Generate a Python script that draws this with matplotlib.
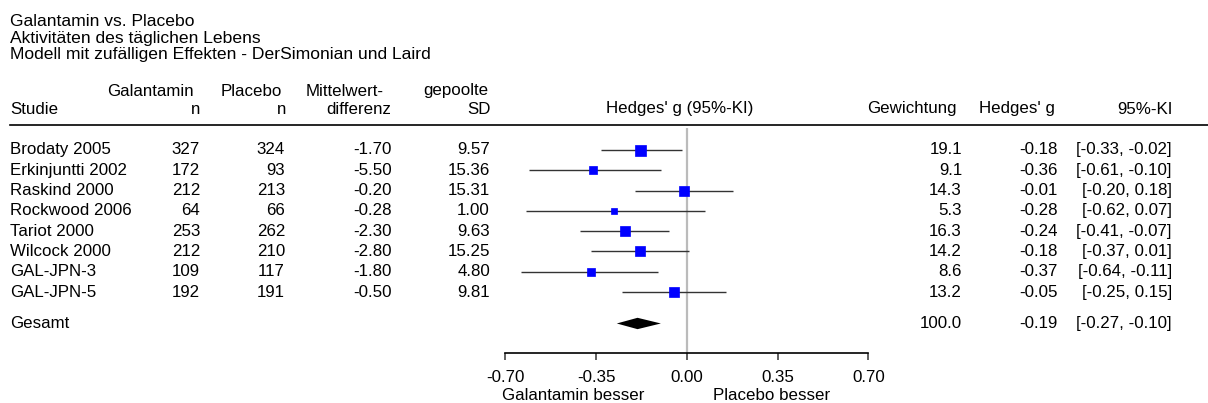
import matplotlib.pyplot as plt
import matplotlib.transforms as mtransforms
import numpy as np

plt.rcParams['font.family'] = ['Liberation Sans', 'DejaVu Sans']
plt.rcParams['font.size'] = 12.2

# Data
titles = ["Galantamin vs. Placebo",
          "Aktivitäten des täglichen Lebens",
          "Modell mit zufälligen Effekten - DerSimonian und Laird"]
studies = ["Brodaty 2005", "Erkinjuntti 2002", "Raskind 2000", "Rockwood 2006",
           "Tariot 2000", "Wilcock 2000", "GAL-JPN-3", "GAL-JPN-5"]
n_gal = [327, 172, 212, 64, 253, 212, 109, 192]
n_pla = [324, 93, 213, 66, 262, 210, 117, 191]
mean_diff = [-1.70, -5.50, -0.20, -0.28, -2.30, -2.80, -1.80, -0.50]
pooled_sd = [9.57, 15.36, 15.31, 1.00, 9.63, 15.25, 4.80, 9.81]
weights = [19.1, 9.1, 14.3, 5.3, 16.3, 14.2, 8.6, 13.2]
g = [-0.18, -0.36, -0.01, -0.28, -0.24, -0.18, -0.37, -0.05]
ci_lo = [-0.33, -0.61, -0.20, -0.62, -0.41, -0.37, -0.64, -0.25]
ci_hi = [-0.02, -0.10, 0.18, 0.07, -0.07, 0.01, -0.11, 0.15]
total_weight = 100.0
total_g = -0.19
total_lo = -0.27
total_hi = -0.10
xticks = [-0.70, -0.35, 0.00, 0.35, 0.70]
xtick_labels = ["-0.70", "-0.35", "0.00", "0.35", "0.70"]

W, H = 1208, 403
fig = plt.figure(figsize=(W / 100, H / 100), dpi=100)


def fx(px):
    return px / W


def fy(py):
    return 1 - py / H


# forest plot axes (pixel box)
ax = fig.add_axes([fx(505.3), fy(353), fx(868.3) - fx(505.3), fy(128) - fy(353)])
ax.set_xlim(-0.7, 0.7)
ax.set_ylim(10.005, -1.084)
rows = np.arange(len(studies))
total_row = len(studies) + 0.55

ax.axvline(0, color='#bbbbbb', lw=1.6, zorder=0)
ax.hlines(rows, ci_lo, ci_hi, color='#333333', lw=1.0, zorder=1)
for y, gv, w in zip(rows, g, weights):
    side = 11 * np.sqrt(w / 19.1) * 0.72
    ax.plot(gv, y, marker='s', ms=side, color='#0000ff', mec='#0000ff', mew=0.5, zorder=2)

dh = 0.28
ax.fill([total_lo, total_g, total_hi, total_g],
        [total_row, total_row - dh, total_row, total_row + dh], color='black', lw=0)

for s in ['top', 'left', 'right']:
    ax.spines[s].set_visible(False)
ax.spines['bottom'].set_color('black')
ax.spines['bottom'].set_linewidth(1.2)
ax.set_yticks([])
ax.set_xticks(xticks)
ax.set_xticklabels(xtick_labels)
ax.tick_params(axis='x', length=5, width=1.2, color='#444444', pad=7)

# titles
for i, t in enumerate(titles):
    fig.text(fx(10), fy(21.5 + 16.5 * i), t, ha='left', va='center', fontsize=12.6)

# header
fig.text(fx(194), fy(91), "Galantamin", ha='right', va='center')
fig.text(fx(282), fy(91), "Placebo", ha='right', va='center')
fig.text(fx(384), fy(91), "Mittelwert-", ha='right', va='center')
fig.text(fx(488), fy(91), "gepoolte", ha='right', va='center')
hy = fy(109)
fig.text(fx(10), hy, "Studie", ha='left', va='center')
fig.text(fx(200), hy, "n", ha='right', va='center')
fig.text(fx(286), hy, "n", ha='right', va='center')
fig.text(fx(391), hy, "differenz", ha='right', va='center')
fig.text(fx(491), hy, "SD", ha='right', va='center')
fig.text(fx(680), hy, "Hedges' g (95%-KI)", ha='center', va='center')
fig.text(fx(957), hy, "Gewichtung", ha='right', va='center')
fig.text(fx(1055), hy, "Hedges' g", ha='right', va='center')
fig.text(fx(1173), hy, "95%-KI", ha='right', va='center')
fig.add_artist(plt.Line2D([fx(10), fx(1208)], [fy(125), fy(125)], color='black', lw=1.2))

# table rows, y in data coordinates of the forest axes
trans = mtransforms.blended_transform_factory(fig.transFigure, ax.transData)
kw = dict(transform=trans, va='center', clip_on=False)
for y, i in zip(rows, range(len(studies))):
    ax.text(fx(10), y, studies[i], ha='left', **kw)
    ax.text(fx(200), y, f"{n_gal[i]}", ha='right', **kw)
    ax.text(fx(285), y, f"{n_pla[i]}", ha='right', **kw)
    ax.text(fx(392), y, f"{mean_diff[i]:.2f}", ha='right', **kw)
    ax.text(fx(490), y, f"{pooled_sd[i]:.2f}", ha='right', **kw)
    ax.text(fx(962), y, f"{weights[i]:.1f}", ha='right', **kw)
    ax.text(fx(1058), y, f"{g[i]:.2f}", ha='right', **kw)
    ax.text(fx(1172), y, f"[{ci_lo[i]:.2f}, {ci_hi[i]:.2f}]", ha='right', **kw)

ax.text(fx(10), total_row, "Gesamt", ha='left', **kw)
ax.text(fx(962), total_row, f"{total_weight:.1f}", ha='right', **kw)
ax.text(fx(1058), total_row, f"{total_g:.2f}", ha='right', **kw)
ax.text(fx(1172), total_row, f"[{total_lo:.2f}, {total_hi:.2f}]", ha='right', **kw)

fig.text(fx(502), fy(395), "Galantamin besser", ha='left', va='center')
fig.text(fx(713), fy(395), "Placebo besser", ha='left', va='center')

fig.savefig("out.png", dpi=100)
plt.close()
